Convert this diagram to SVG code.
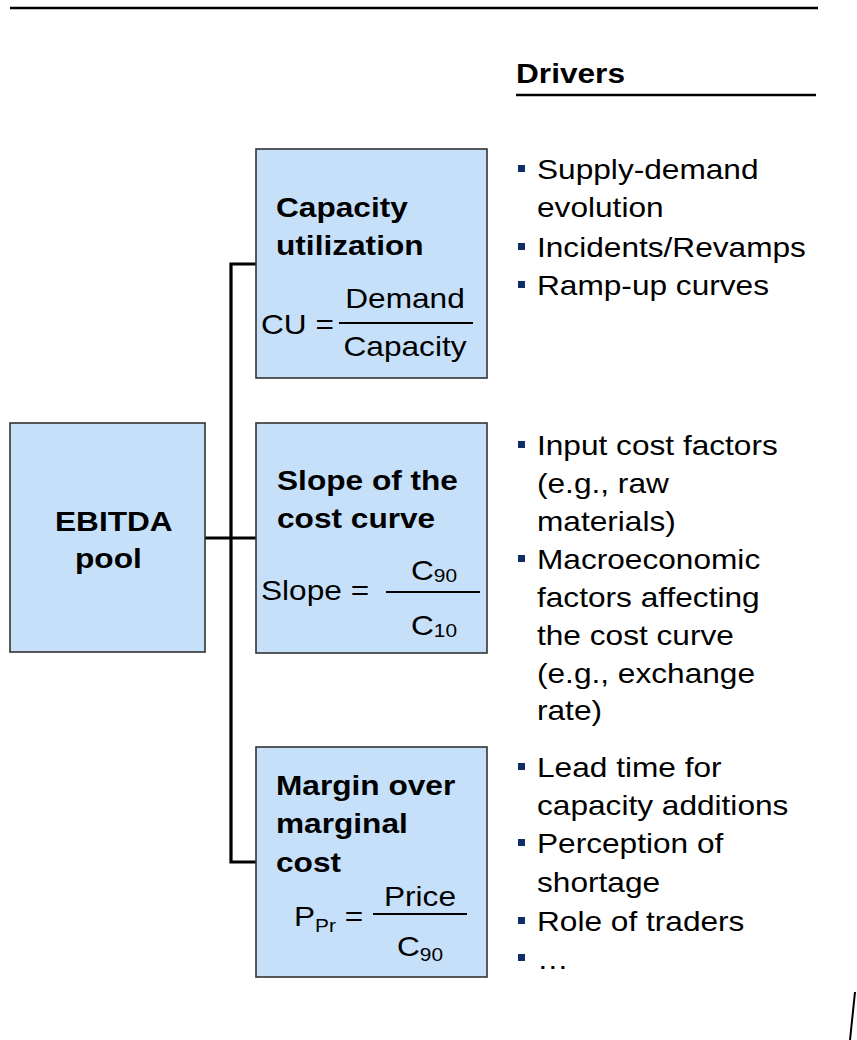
<svg xmlns="http://www.w3.org/2000/svg" width="857" height="1040" viewBox="0 0 857 1040">
<style>
.bg{fill:#fff}
.box{fill:#C6E0FA;stroke:#333;stroke-width:1.6}
.t{font-family:"Liberation Sans",Arial,sans-serif;font-size:28px;fill:#000}
.b{font-weight:bold}
.sub{font-size:18.5px}
.conn{fill:none;stroke:#000;stroke-width:3.2;stroke-linejoin:miter}
.rule{stroke:#000;stroke-width:2.4}
.frac{stroke:#000;stroke-width:2}
.bul{fill:#0F2D69}
</style>
<rect class="bg" x="0" y="0" width="857" height="1040"/>
<line class="rule" x1="10" y1="8" x2="818" y2="8"/>
<line x1="855" y1="992" x2="850" y2="1040" stroke="#000" stroke-width="2"/>

<g id="connectors">
  <path class="conn" d="M256,264 H231 V862 H256"/>
  <path class="conn" d="M205,538 H256"/>
</g>

<g id="node-ebitda">
  <rect class="box" x="10" y="423" width="195" height="229"/>
  <text class="t b" transform="matrix(1.13 0 0 1 55 531)">EBITDA</text>
  <text class="t b" transform="matrix(1.13 0 0 1 75 568)">pool</text>
</g>

<g id="node-capacity">
  <rect class="box" x="256" y="149" width="231" height="229"/>
  <text class="t b" transform="matrix(1.13 0 0 1 276 217)">Capacity</text>
  <text class="t b" transform="matrix(1.13 0 0 1 276 255)">utilization</text>
  <text class="t" transform="matrix(1.13 0 0 1 261 334)">CU =</text>
  <text class="t" text-anchor="middle" transform="matrix(1.13 0 0 1 405 308)">Demand</text>
  <line class="frac" x1="339" y1="323" x2="473" y2="323"/>
  <text class="t" text-anchor="middle" transform="matrix(1.13 0 0 1 405 356)">Capacity</text>
</g>

<g id="node-slope">
  <rect class="box" x="256" y="423" width="231" height="230"/>
  <text class="t b" transform="matrix(1.13 0 0 1 277 490)">Slope of the</text>
  <text class="t b" transform="matrix(1.13 0 0 1 277 528)">cost curve</text>
  <text class="t" transform="matrix(1.13 0 0 1 261 600)">Slope =</text>
  <text class="t" transform="matrix(1.13 0 0 1 411 580)">C<tspan class="sub" dy="2">90</tspan></text>
  <line class="frac" x1="386" y1="592" x2="480" y2="592"/>
  <text class="t" transform="matrix(1.13 0 0 1 411 635)">C<tspan class="sub" dy="2">10</tspan></text>
</g>

<g id="node-margin">
  <rect class="box" x="256" y="747" width="231" height="230"/>
  <text class="t b" transform="matrix(1.13 0 0 1 276 795)">Margin over</text>
  <text class="t b" transform="matrix(1.13 0 0 1 276 833)">marginal</text>
  <text class="t b" transform="matrix(1.13 0 0 1 276 872)">cost</text>
  <text class="t" transform="matrix(1.13 0 0 1 294 926)">P<tspan class="sub" dy="6">Pr</tspan><tspan dy="-6"> =</tspan></text>
  <text class="t" text-anchor="middle" transform="matrix(1.13 0 0 1 420 906)">Price</text>
  <line class="frac" x1="373" y1="914" x2="467" y2="914"/>
  <text class="t" transform="matrix(1.13 0 0 1 397 956)">C<tspan class="sub" dy="5">90</tspan></text>
</g>

<g id="drivers-header">
  <text class="t b" transform="matrix(1.13 0 0 1 516 83)">Drivers</text>
  <line class="rule" x1="516" y1="95" x2="816" y2="95"/>
</g>

<g id="drivers-capacity">
  <rect class="bul" x="518" y="165" width="7" height="7"/>
  <text class="t" transform="matrix(1.13 0 0 1 537 179)">Supply-demand</text>
  <text class="t" transform="matrix(1.13 0 0 1 537 217)">evolution</text>
  <rect class="bul" x="518" y="243" width="7" height="7"/>
  <text class="t" transform="matrix(1.13 0 0 1 537 257)">Incidents/Revamps</text>
  <rect class="bul" x="518" y="281" width="7" height="7"/>
  <text class="t" transform="matrix(1.13 0 0 1 537 295)">Ramp-up curves</text>
</g>

<g id="drivers-slope">
  <rect class="bul" x="518" y="441" width="7" height="7"/>
  <text class="t" transform="matrix(1.13 0 0 1 537 455)">Input cost factors</text>
  <text class="t" transform="matrix(1.13 0 0 1 537 493)">(e.g., raw</text>
  <text class="t" transform="matrix(1.13 0 0 1 537 531)">materials)</text>
  <rect class="bul" x="518" y="555" width="7" height="7"/>
  <text class="t" transform="matrix(1.13 0 0 1 537 569)">Macroeconomic</text>
  <text class="t" transform="matrix(1.13 0 0 1 537 607)">factors affecting</text>
  <text class="t" transform="matrix(1.13 0 0 1 537 645)">the cost curve</text>
  <text class="t" transform="matrix(1.13 0 0 1 537 683)">(e.g., exchange</text>
  <text class="t" transform="matrix(1.13 0 0 1 537 720)">rate)</text>
</g>

<g id="drivers-margin">
  <rect class="bul" x="518" y="763" width="7" height="7"/>
  <text class="t" transform="matrix(1.13 0 0 1 537 777)">Lead time for</text>
  <text class="t" transform="matrix(1.13 0 0 1 537 815)">capacity additions</text>
  <rect class="bul" x="518" y="839" width="7" height="7"/>
  <text class="t" transform="matrix(1.13 0 0 1 537 853)">Perception of</text>
  <text class="t" transform="matrix(1.13 0 0 1 537 892)">shortage</text>
  <rect class="bul" x="518" y="917" width="7" height="7"/>
  <text class="t" transform="matrix(1.13 0 0 1 537 931)">Role of traders</text>
  <rect class="bul" x="518" y="954" width="7" height="7"/>
  <text class="t" transform="matrix(1.13 0 0 1 537 969)">…</text>
</g>
</svg>
